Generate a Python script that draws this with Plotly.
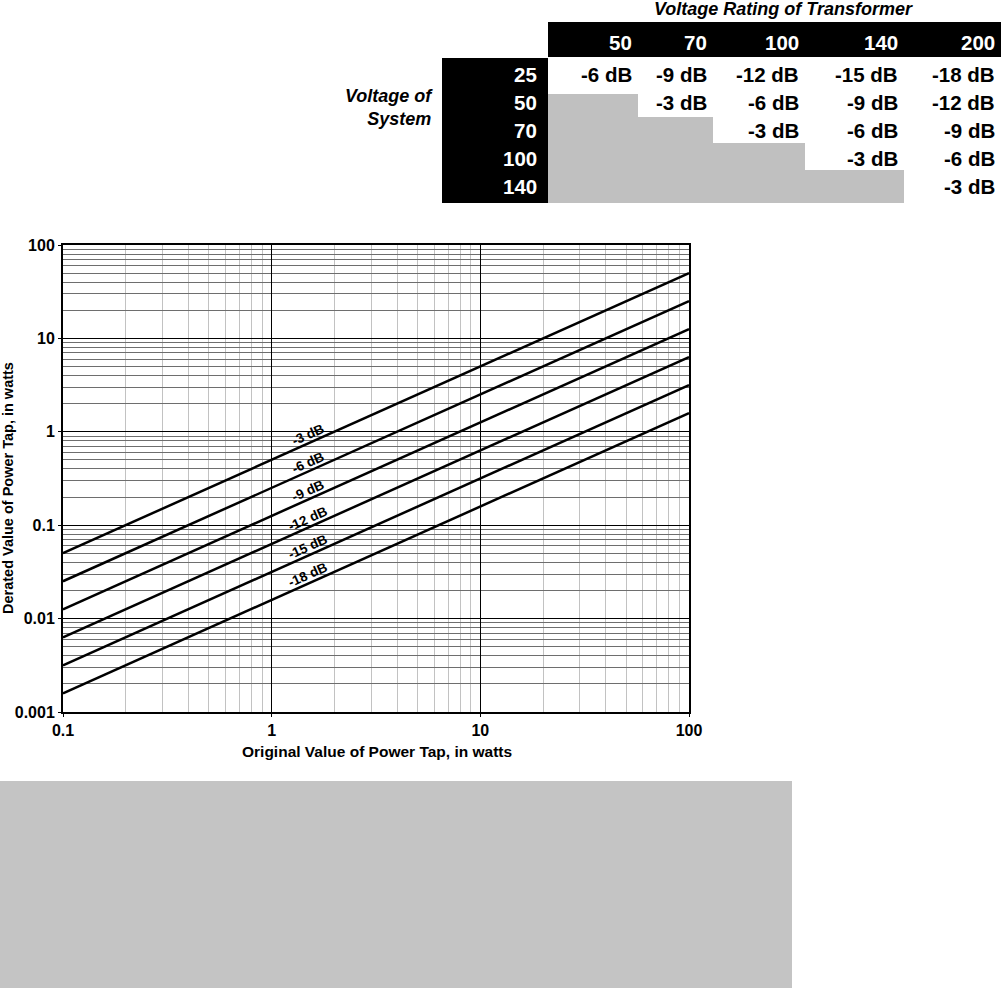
import math
import plotly.graph_objects as go

# --- data -------------------------------------------------------------
attenuation_db = [-3, -6, -9, -12, -15, -18]          # derating curves
power_range = [0.1, 100]                               # original power tap, W

transformer_ratings = ["50", "70", "100", "140", "200"]  # table columns
system_voltages = ["25", "50", "70", "100", "140"]       # table rows
# dB loss for each system voltage (row) and transformer rating (column)
tap_loss_db = [
    [-6, -9, -12, -15, -18],
    [None, -3, -6, -9, -12],
    [None, None, -3, -6, -9],
    [None, None, None, -3, -6],
    [None, None, None, None, -3],
]

x_ticks = [0.1, 1, 10, 100]
x_tick_text = ["0.1", "1", "10", "100"]
y_ticks = [0.001, 0.01, 0.1, 1, 10, 100]
y_tick_text = ["0.001", "0.01", "0.1", "1", "10", "100"]

# --- geometry ---------------------------------------------------------
W, H = 1007, 988
L, R, T, B = 63, 689, 245, 712          # plot area in pixels
PW, PH = R - L, B - T


def px(x):
    return (x - L) / PW


def py(y):
    return (B - y) / PH


FONT = "Liberation Sans, Arial, Helvetica, sans-serif"
NARROW = "Liberation Sans Narrow, Arial Narrow, Liberation Sans, Arial, sans-serif"

fig = go.Figure()

# derating lines: P_out = P_in * 10^(dB/10)
for db in attenuation_db:
    ratio = 10 ** (db / 10)
    fig.add_trace(go.Scatter(
        x=power_range,
        y=[p * ratio for p in power_range],
        mode="lines",
        line=dict(color="black", width=2.5),
        showlegend=False,
        hoverinfo="skip",
    ))

# curve labels, sitting just above each line
label_x = 1.5
for db in attenuation_db:
    ratio = 10 ** (db / 10)
    fig.add_annotation(
        x=math.log10(label_x), y=math.log10(label_x * ratio),
        xref="x", yref="y",
        text=f"{db} dB", showarrow=False,
        textangle=-24, yshift=9,
        font=dict(family=FONT, size=13.5, color="black", weight="bold"),
    )

# minor grid positions (2..9 within each decade)
minor_x = [m * 10 ** e for e in range(-1, 2) for m in range(2, 10)]
minor_y = [m * 10 ** e for e in range(-3, 2) for m in range(2, 10)]

axis_common = dict(
    type="log",
    showline=True, linecolor="black", linewidth=2, mirror=True,
    ticks="outside", ticklen=3, tickcolor="black", tickwidth=1,
    showgrid=True, gridcolor="black", gridwidth=1,
    tickfont=dict(family=FONT, size=16, color="black", weight="bold"),
    zeroline=False,
)

fig.update_xaxes(
    **axis_common,
    range=[-1, 2],
    tickvals=x_ticks, ticktext=x_tick_text,
    minor=dict(tickvals=minor_x, showgrid=True, gridcolor="#c2c2c2",
               gridwidth=1, ticks=""),
)
fig.update_yaxes(
    **axis_common,
    range=[-3, 2],
    tickvals=y_ticks, ticktext=y_tick_text,
    minor=dict(tickvals=minor_y, showgrid=True, gridcolor="#6e6e6e",
               gridwidth=1, ticks=""),
)

# axis titles
fig.add_annotation(
    x=px(377), y=py(751), xref="paper", yref="paper",
    text="Original Value of Power Tap, in watts", showarrow=False,
    font=dict(family=FONT, size=15.5, color="black", weight="bold"),
    xanchor="center", yanchor="middle",
)
fig.add_annotation(
    x=px(8), y=py(488), xref="paper", yref="paper",
    text="Derated Value of Power Tap, in watts", showarrow=False,
    textangle=-90,
    font=dict(family=FONT, size=14.5, color="black", weight="bold"),
    xanchor="center", yanchor="middle",
)

# --- lookup table -----------------------------------------------------
shapes = []
col_edges = [548, 638, 713, 805, 904, 1001]
row_edges = [58, 94, 117, 143, 170, 203]
row_mid = [75, 103, 131, 159, 187]
head_top, head_bot = 22, 57
left_x0 = 442


def rect(x0, y0, x1, y1, color):
    shapes.append(dict(
        type="rect", xref="paper", yref="paper",
        x0=px(x0), x1=px(x1), y0=py(y1), y1=py(y0),
        fillcolor=color, line=dict(width=0), layer="below",
    ))


rect(col_edges[0], head_top, col_edges[-1], head_bot, "black")
rect(left_x0, row_edges[0], col_edges[0], row_edges[-1], "black")

for i, row in enumerate(tap_loss_db):
    for j, v in enumerate(row):
        if v is None:
            rect(col_edges[j], row_edges[i], col_edges[j + 1], row_edges[i + 1], "#c0c0c0")
        else:
            fig.add_annotation(
                x=px(col_edges[j + 1] - 4), y=py(row_mid[i]),
                xref="paper", yref="paper", text=f"{v} dB", showarrow=False,
                xanchor="right", yanchor="middle",
                font=dict(family=FONT, size=20.5, color="black", weight="bold"),
            )

for j, c in enumerate(transformer_ratings):
    fig.add_annotation(
        x=px(col_edges[j + 1] - 4), y=py(42), xref="paper", yref="paper",
        text=c, showarrow=False, xanchor="right", yanchor="middle",
        font=dict(family=FONT, size=20.5, color="white", weight="bold"),
    )

for i, r in enumerate(system_voltages):
    fig.add_annotation(
        x=px(539), y=py(row_mid[i]), xref="paper", yref="paper",
        text=r, showarrow=False, xanchor="right", yanchor="middle",
        font=dict(family=FONT, size=20.5, color="white", weight="bold"),
    )

fig.add_annotation(
    x=px(783), y=py(9), xref="paper", yref="paper",
    text="<i>Voltage Rating of Transformer</i>", showarrow=False,
    xanchor="center", yanchor="middle",
    font=dict(family=NARROW, size=18, color="black", weight="bold"),
)
fig.add_annotation(
    x=px(435), y=py(107), xref="paper", yref="paper",
    text="<i>Voltage of<br>System</i>", showarrow=False,
    xanchor="right", yanchor="middle", align="right",
    font=dict(family=NARROW, size=18, color="black", weight="bold"),
)

# grey panel under the chart
rect(0, 781, 792, 988, "#c4c4c4")

fig.update_layout(
    width=W, height=H, autosize=False,
    margin=dict(l=L, r=W - R, t=T, b=H - B, pad=0),
    paper_bgcolor="white", plot_bgcolor="white",
    shapes=shapes,
    showlegend=False,
)

fig.write_html("out.html")
